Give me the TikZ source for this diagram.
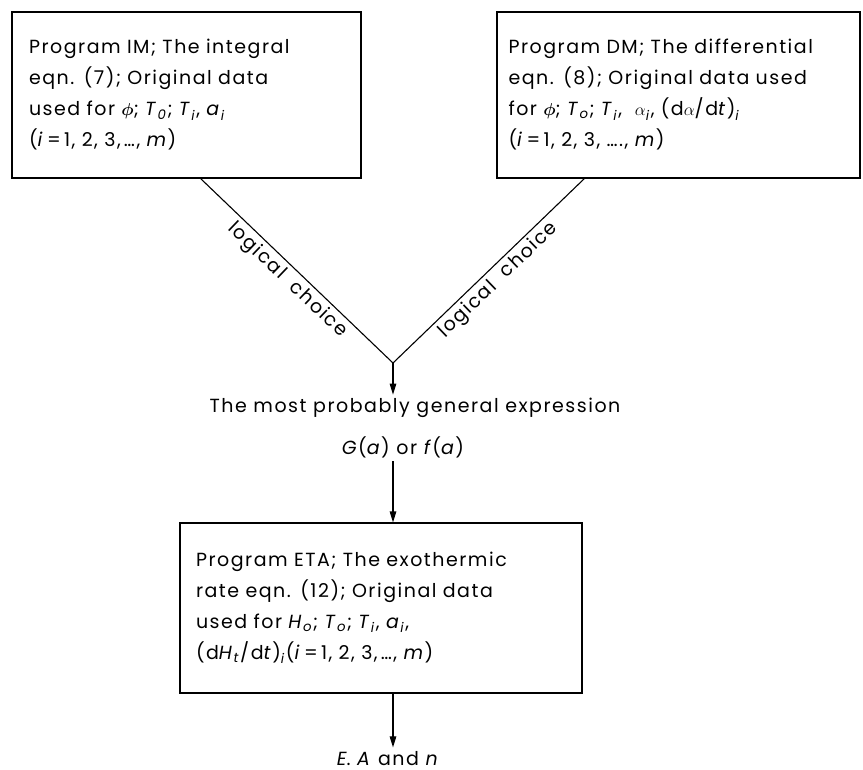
\documentclass[tikz,border=0pt]{standalone}
\usepackage{fontspec}
\usepackage{bm}
\setmainfont{Poppins}[LetterSpace=8]
\usetikzlibrary{arrows.meta,positioning}

\newcommand{\vr}[1]{\textit{#1}}
\newcommand{\sbs}[1]{\textsubscript{\textit{#1}}}
\newcommand{\fph}{$\bm{\phi}$}

\begin{document}
\begin{tikzpicture}[x=1pt,y=-1pt,
		txt/.style={font=\fontsize{19}{31}\selectfont},
		progbox/.style={draw,line width=1.1pt,txt,align=left,anchor=center},
		flow/.style={line width=1.1pt,-{Triangle[length=11pt,width=6.5pt]}},
		vline/.style={line width=1.1pt}
	]
	\useasboundingbox (0,0) rectangle (863,770);

	% the two programs on top
	\node[progbox,minimum width=349pt,minimum height=166pt,text width=315pt] (im) at (186.5,95){
		Program IM; The integral\\
		eqn. (7); Original data\\
		used for \fph; \vr{T}\sbs{0}; \vr{T}\sbs{i}, \vr{a}\sbs{i}\\
		(\vr{i}\,=\,1, 2, 3,\,\dots, \vr{m})
	};
	\node[progbox,minimum width=363pt,minimum height=166pt,text width=340pt] (dm) at (678.5,95){
		Program DM; The differential\\
		eqn. (8); Original data used\\
		for \fph; \vr{T}\sbs{o}; \vr{T}\sbs{i}, \ $\alpha$\sbs{i}, (d$\alpha$/d\vr{t})\sbs{i}\\
		(\vr{i}\,=\,1, 2, 3, \dots., \vr{m})
	};

	% logical choice
	\coordinate (apex) at (393,363);
	\coordinate (imout) at (200,178);
	\coordinate (dmout) at (585,178);
	\draw[vline] (imout) -- node[txt,midway,sloped,below]{logical~ choice} (apex);
	\draw[vline] (apex) -- node[txt,midway,sloped,below]{logical~ choice} (dmout);

	\node[txt] (expr) at (415,408){The most probably general expression};
	\node[txt] (gf) at (403,447){\vr{G}(\vr{a}) or \vr{f}(\vr{a})};
	\draw[flow] (apex) -- (expr.north -| apex);

	% exothermic rate
	\node[progbox,minimum width=402pt,minimum height=170pt,text width=370pt] (eta) at (381,608){
		Program ETA; The exothermic\\
		rate eqn. (12); Original data\\
		used for \vr{H}\sbs{o}; \vr{T}\sbs{o}; \vr{T}\sbs{i}, \vr{a}\sbs{i},\\
		(d\vr{H}\sbs{t}/d\vr{t})\sbs{i}(\vr{i}\,=\,1, 2, 3,\,\dots, \vr{m})
	};
	\draw[flow] (gf.south -| apex) -- (eta.north -| apex);

	\node[txt,anchor=base] (res) at (388,765){\vr{E}. \vr{A} and \vr{n}};
	\draw[flow] (eta.south -| apex) -- (res.north -| apex);
\end{tikzpicture}
\end{document}
